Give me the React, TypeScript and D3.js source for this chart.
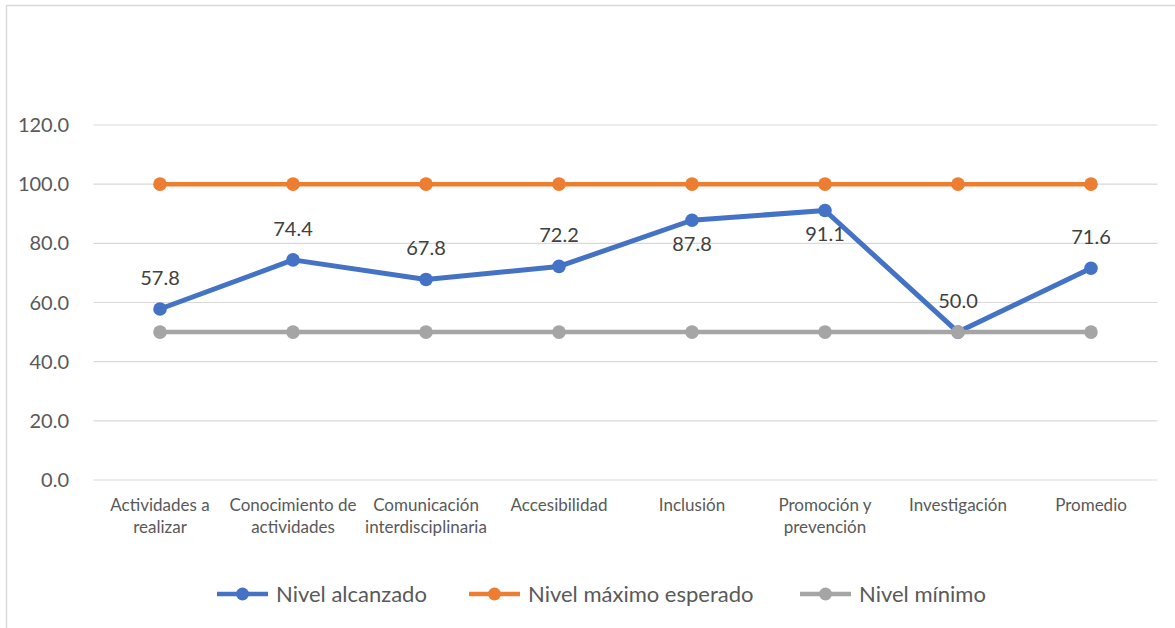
import React from "react";
import * as d3 from "d3";

const categories = [
  "Actividades a\nrealizar",
  "Conocimiento de\nactividades",
  "Comunicación\ninterdisciplinaria",
  "Accesibilidad",
  "Inclusión",
  "Promoción y\nprevención",
  "Investigación",
  "Promedio",
];
const nivelAlcanzado = [57.8, 74.4, 67.8, 72.2, 87.8, 91.1, 50.0, 71.6];
const nivelMaximo = [100, 100, 100, 100, 100, 100, 100, 100];
const nivelMinimo = [50, 50, 50, 50, 50, 50, 50, 50];
const yTicks = [0, 20, 40, 60, 80, 100, 120];
const labelBelow = [false, false, false, false, true, true, false, false];

const seriesNames = ["Nivel alcanzado", "Nivel máximo esperado", "Nivel mínimo"];
const seriesColors = ["#4472C4", "#ED7D31", "#A5A5A5"];

const W = 1175;
const H = 628;
const FONT = "Lato, 'Open Sans', sans-serif";

export default function App() {
  const x = d3.scaleBand<number>().domain(d3.range(categories.length)).range([93.5, 1157.5]);
  const y = d3.scaleLinear().domain([0, 120]).range([480, 125]);
  const cx = (i: number) => (x(i) as number) + x.bandwidth() / 2;
  const line = d3
    .line<number>()
    .x((_, i) => cx(i))
    .y((d) => y(d));

  const series = [nivelAlcanzado, nivelMaximo, nivelMinimo];
  const legendX = [217, 469, 800];

  return (
    <div style={{ position: "absolute", left: 0, top: 0 }}>
      <svg width={W} height={H} style={{ display: "block", background: "#fff" }}>
        <rect x={6.5} y={5.5} width={W + 10} height={H + 10} fill="#fff" stroke="#D9D9D9" strokeWidth={1.5} />
        {yTicks.map((t) => (
          <g key={t}>
            <line x1={93.5} x2={1157.5} y1={y(t)} y2={y(t)} stroke="#D9D9D9" strokeWidth={1.2} />
            <text
              x={69}
              y={y(t)}
              dy="0.35em"
              textAnchor="end"
              fontFamily={FONT}
              fontSize={20}
              fill="#595959"
            >
              {t.toFixed(1)}
            </text>
          </g>
        ))}
        {categories.map((c, i) => (
          <text key={i} x={cx(i)} y={511} textAnchor="middle" fontFamily={FONT} fontSize={17} fill="#595959">
            {c.split("\n").map((ln, j) => (
              <tspan key={j} x={cx(i)} dy={j === 0 ? 0 : 22}>
                {ln}
              </tspan>
            ))}
          </text>
        ))}
        {series.map((s, k) => (
          <g key={k}>
            <path d={line(s) || ""} fill="none" stroke={seriesColors[k]} strokeWidth={k === 0 ? 5 : 4.5} strokeLinejoin="round" />
            {s.map((v, i) => (
              <circle key={i} cx={cx(i)} cy={y(v)} r={6.8} fill={seriesColors[k]} />
            ))}
          </g>
        ))}
        {nivelAlcanzado.map((v, i) => (
          <text
            key={i}
            x={cx(i)}
            y={y(v) + (labelBelow[i] ? 24 : -31)}
            dy="0.35em"
            textAnchor="middle"
            fontFamily={FONT}
            fontSize={20}
            fill="#404040"
          >
            {v.toFixed(1)}
          </text>
        ))}
        {seriesNames.map((n, k) => (
          <g key={k}>
            <line x1={legendX[k]} x2={legendX[k] + 51} y1={594} y2={594} stroke={seriesColors[k]} strokeWidth={4.5} />
            <circle cx={legendX[k] + 25.5} cy={594} r={6.5} fill={seriesColors[k]} />
            <text x={legendX[k] + 59} y={594} dy="0.35em" fontFamily={FONT} fontSize={22} fill="#595959">
              {n}
            </text>
          </g>
        ))}
      </svg>
    </div>
  );
}
